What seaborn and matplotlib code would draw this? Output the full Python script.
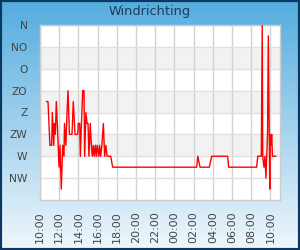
import numpy as np
import pandas as pd
import matplotlib
matplotlib.use("Agg")
import matplotlib.pyplot as plt
import matplotlib.dates as mdates
from matplotlib.patches import Rectangle
import seaborn as sns

# ---- data ----
title = "Windrichting"
start = "2024-01-01 10:00"
# minutes after start
minutes = [40, 50, 62, 73, 77, 86, 89, 96, 102, 111, 119, 125, 133, 142, 150, 153,
           162, 169, 175, 184, 200, 208, 219, 236, 239, 248, 252, 259, 267, 275, 279,
           287, 294, 300, 306, 314, 321, 327, 333, 339, 346, 352, 358, 367, 373, 379,
           387, 396, 404, 412, 419, 442, 454, 979, 986, 1000, 1058, 1073, 1173, 1179,
           1354, 1361, 1383, 1389, 1392, 1400, 1406, 1412, 1422, 1427, 1436, 1439,
           1444, 1448, 1453, 1475]
direction = [202.5, 202.5, 112.5, 112.5, 180, 112.5, 157.5, 135, 202.5, 135, 67.5, 112.5,
             22.5, 112.5, 90, 157.5, 112.5, 180, 225, 135, 135, 202.5, 135, 135, 157.5,
             157.5, 90, 157.5, 225, 225, 90, 180, 157.5, 157.5, 90, 157.5, 112.5, 90,
             112.5, 90, 112.5, 90, 112.5, 90, 112.5, 90, 112.5, 157.5, 90, 112.5, 90, 90,
             67.5, 67.5, 90, 67.5, 67.5, 90, 90, 67.5, 67.5, 90, 90, 360, 90, 67.5, 90,
             45, 135, 337.5, 22.5, 135, 112.5, 135, 90, 90]
ytick_values = [45, 90, 135, 180, 225, 270, 315, 360]
ytick_labels = ["NW", "W", "ZW", "Z", "ZO", "O", "NO", "N"]
band_ranges = [(90, 135), (180, 225), (270, 315)]

times = pd.Timestamp(start) + pd.to_timedelta(minutes, unit="min")
df = pd.DataFrame({"tijd": times, "richting": direction})

sns.set_style("white")
plt.rcParams["font.family"] = ["DejaVu Sans"]

fig = plt.figure(figsize=(3, 2.5), dpi=100)

# background gradient
bg = fig.add_axes([0, 0, 1, 1], zorder=-10)
top_c = np.array([84, 172, 222]) / 255
bot_c = np.array([240, 247, 252]) / 255
g = np.linspace(0, 1, 256)[:, None]
grad = top_c[None, :] * (1 - g) + bot_c[None, :] * g
grad = np.repeat(grad[:, None, :], 2, axis=1)
bg.imshow(grad, aspect="auto", extent=[0, 1, 0, 1])
bg.add_patch(Rectangle((0, 0), 1, 1, transform=bg.transAxes, fill=False,
                       edgecolor="#0b3763", linewidth=3))
bg.set_axis_off()

ax = fig.add_axes([40 / 300, 50 / 250, 240 / 300, 175 / 250])
ax.set_facecolor("white")
x0 = pd.Timestamp(start)
x1 = x0 + pd.Timedelta(hours=25)
for lo, hi in band_ranges:
    ax.axhspan(lo, hi, color="#f2f2f2", zorder=0, lw=0)

sns.lineplot(data=df, x="tijd", y="richting", ax=ax, color="#ff0000", lw=1, zorder=3)

ax.set_xlim(x0, x1)
ax.set_ylim(0, 360)
ax.set_yticks(ytick_values)
ax.set_yticklabels(ytick_labels)
ax.xaxis.set_major_locator(mdates.HourLocator(byhour=range(0, 24, 2)))
ax.xaxis.set_major_formatter(mdates.DateFormatter("%H:%M"))
ax.grid(True, axis="x", color="#d2d2d2", lw=1, zorder=1)
ax.grid(True, axis="y", color="#e0e0e0", lw=1, zorder=1)
ax.set_axisbelow(True)
ax.tick_params(axis="x", length=0, pad=8, labelsize=8, labelcolor="#444444", rotation=90)
ax.tick_params(axis="y", length=0, pad=9, labelsize=7.7, labelcolor="#444444")
ax.set_xlabel("")
ax.set_ylabel("")
for s in ax.spines.values():
    s.set_color("#cccccc")
    s.set_linewidth(1)

fig.text(0.5, 1 - 11.5 / 250, title, ha="center", va="center", fontsize=9.3,
         color="#1b3d5e")

fig.savefig("out.png", dpi=100)
